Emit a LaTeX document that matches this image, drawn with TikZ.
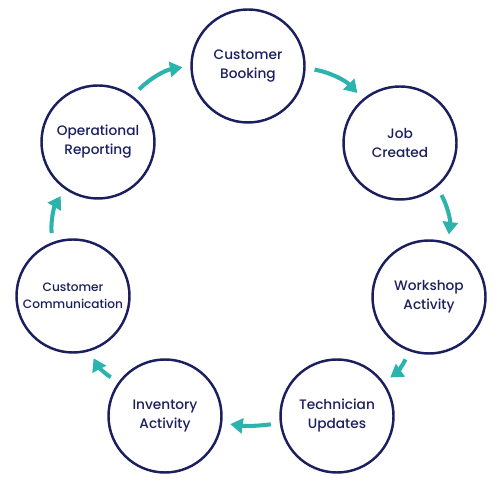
\documentclass[tikz,border=0pt]{standalone}
\usepackage{fontspec}
\setmainfont{Poppins}[UprightFont=* Medium]
\usepackage{xcolor}
\usetikzlibrary{arrows.meta}
\definecolor{stagenavy}{HTML}{1B1F5E}
\definecolor{flowteal}{HTML}{2BB3AE}

\begin{document}
\begin{tikzpicture}
\tikzset{stage/.style={circle,draw=stagenavy,line width=1.4pt,minimum size=2.26cm,inner sep=0pt,align=center,text=stagenavy,font=\fontsize{7.8}{10.8}\selectfont}}
\tikzset{flow/.style={draw=flowteal,line width=2.3pt,-{Triangle[length=0.25cm,width=0.3cm]},shorten <=0.18cm,shorten >=0.16cm}}

\useasboundingbox (0,0) rectangle (10,10);

\node[stage] (booking)  at (4.96,8.68) {Customer\\Booking};
\node[stage] (job)      at (8.00,7.14) {Job\\Created};
\node[stage] (workshop) at (8.58,4.06) {Workshop\\Activity};
\node[stage] (tech)     at (6.74,1.68) {Technician\\Updates};
\node[stage] (stock)    at (3.30,1.68) {Inventory\\Activity};
\node[stage,font=\fontsize{6.9}{10}\selectfont] (comms) at (1.46,4.08) {Customer\\Communication};
\node[stage] (report)   at (1.96,7.16) {Operational\\Reporting};

\draw[flow] (booking.-2)   to[bend left=18] (job.130);
\draw[flow] (job.-50)      to[bend left=18] (workshop.71);
\draw[flow] (workshop.-110) to[bend left=15] (tech.36);
\draw[flow] (tech.187)     to[bend left=8]  (stock.-7);
\draw[flow] (stock.144)    to[bend left=15] (comms.-73);
\draw[flow] (comms.111)    to[bend left=18] (report.235);
\draw[flow] (report.53)    to[bend left=18] (booking.180);

\end{tikzpicture}
\end{document}
